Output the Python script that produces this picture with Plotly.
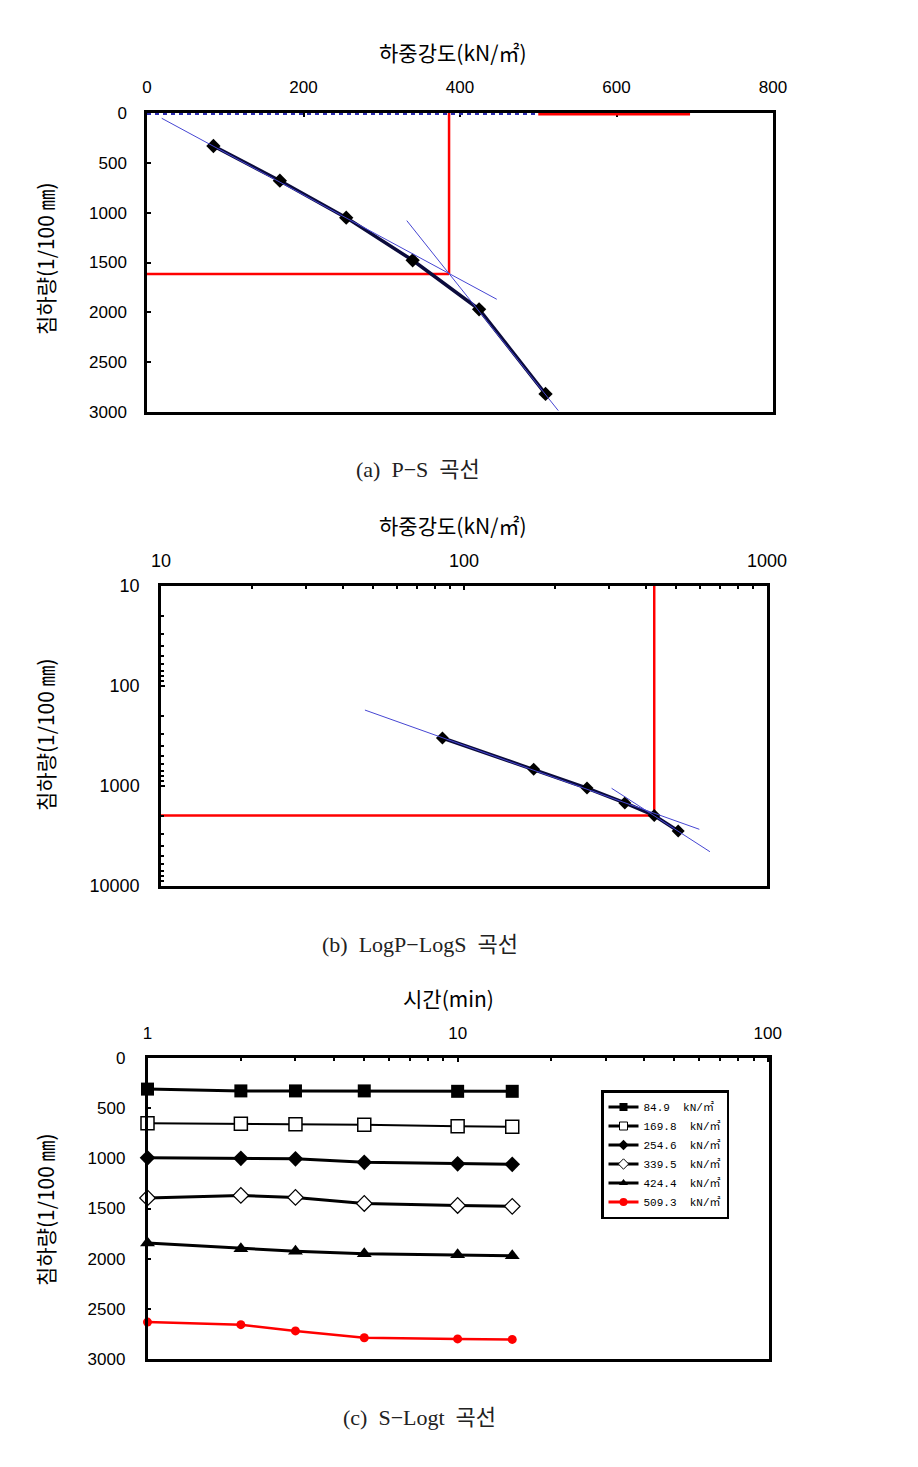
import plotly.graph_objects as go

W, H = 918, 1467

# ---------------- data ----------------
load = [84.9, 169.8, 254.6, 339.5, 424.4, 509.3]          # kN/m2
settle = [331, 679, 1050, 1478, 1970, 2819]                # 1/100 mm

tan_a1_x = [18.8, 447]
tan_a1_y = [53, 1869]
tan_a2_x = [332, 525.6]
tan_a2_y = [1080, 2986]
yield_a_x = 386
yield_a_y = 1615
top_red_x = [500, 694]
top_blue_x = [0, 500]

tan_b1_x = [47.1, 598]
tan_b1_y = [174, 2710]
tan_b2_x = [307, 648]
tan_b2_y = [1054, 4540]
yield_b_x = 424.4
yield_b_y = 1975

time_min = [1, 2, 3, 5, 10, 15]
s_849 = [310, 328, 328, 328, 332, 332]
s_1698 = [650, 655, 660, 665, 680, 685]
s_2546 = [995, 1000, 1005, 1040, 1055, 1060]
s_3395 = [1395, 1370, 1390, 1450, 1470, 1478]
s_4244 = [1845, 1900, 1925, 1952, 1962, 1972]
s_5093 = [2632, 2658, 2720, 2788, 2800, 2805]
series_names = ["84.9  kN/㎡", "169.8  kN/㎡", "254.6  kN/㎡",
                "339.5  kN/㎡", "424.4  kN/㎡", "509.3  kN/㎡"]

x_ticks_a = [0, 200, 400, 600, 800]
y_ticks_a = [0, 500, 1000, 1500, 2000, 2500, 3000]
log_ticks_b = [10, 100, 1000, 10000]
log_ticks_c = [1, 10, 100]
minor_b = [m * 10 ** k for k in (1, 2, 3) for m in range(2, 10)]
minor_c = [m * 10 ** k for k in (0, 1) for m in range(2, 10)]

# ---------------- helpers ----------------
def px(x):
    return x / W

def py(y):
    return 1 - y / H

TICKFONT = dict(family="Liberation Sans, Arial, sans-serif", size=17, color="black")
KFONT = dict(family="Noto Sans CJK KR, sans-serif", size=21, color="black")
CAPFONT = dict(family="Liberation Serif, Noto Sans CJK KR, serif", size=22, color="#222")

NAVY = "#0b0b3c"
BLUE = "#4646d2"
RED = "#ff0000"

fig = go.Figure()

# ---------------- panel (a) ----------------
fig.add_trace(go.Scatter(x=top_blue_x, y=[0, 0], mode="lines", xaxis="x", yaxis="y",
                         line=dict(color="#2a2ab0", width=4, dash="dot"),
                         showlegend=False, hoverinfo="skip"))
fig.add_trace(go.Scatter(x=top_red_x, y=[0, 0], mode="lines", xaxis="x", yaxis="y",
                         line=dict(color=RED, width=5),
                         showlegend=False, hoverinfo="skip"))
fig.add_trace(go.Scatter(x=[yield_a_x, yield_a_x], y=[0, yield_a_y], mode="lines",
                         xaxis="x", yaxis="y", line=dict(color=RED, width=2.5),
                         showlegend=False))
fig.add_trace(go.Scatter(x=[0, yield_a_x], y=[yield_a_y, yield_a_y], mode="lines",
                         xaxis="x", yaxis="y", line=dict(color=RED, width=2.5),
                         showlegend=False))
fig.add_trace(go.Scatter(x=load, y=settle, mode="lines+markers", xaxis="x", yaxis="y",
                         line=dict(color=NAVY, width=3.5),
                         marker=dict(symbol="diamond", size=11, color="black"),
                         showlegend=False))
fig.add_trace(go.Scatter(x=tan_a1_x, y=tan_a1_y, mode="lines", xaxis="x", yaxis="y",
                         line=dict(color=BLUE, width=1), showlegend=False))
fig.add_trace(go.Scatter(x=tan_a2_x, y=tan_a2_y, mode="lines", xaxis="x", yaxis="y",
                         line=dict(color=BLUE, width=1), showlegend=False))

# ---------------- panel (b) ----------------
fig.add_trace(go.Scatter(x=[yield_b_x, yield_b_x], y=[10, yield_b_y], mode="lines",
                         xaxis="x2", yaxis="y2", line=dict(color=RED, width=2.5),
                         showlegend=False))
fig.add_trace(go.Scatter(x=[10, yield_b_x], y=[yield_b_y, yield_b_y], mode="lines",
                         xaxis="x2", yaxis="y2", line=dict(color=RED, width=2.5),
                         showlegend=False))
fig.add_trace(go.Scatter(x=load, y=settle, mode="lines+markers", xaxis="x2", yaxis="y2",
                         line=dict(color=NAVY, width=3.5),
                         marker=dict(symbol="diamond", size=10, color="black"),
                         showlegend=False))
fig.add_trace(go.Scatter(x=tan_b1_x, y=tan_b1_y, mode="lines", xaxis="x2", yaxis="y2",
                         line=dict(color=BLUE, width=1), showlegend=False))
fig.add_trace(go.Scatter(x=tan_b2_x, y=tan_b2_y, mode="lines", xaxis="x2", yaxis="y2",
                         line=dict(color=BLUE, width=1), showlegend=False))

# ---------------- panel (c) ----------------
styles = [
    (s_849, dict(symbol="square", size=13, color="black"), dict(color="black", width=3)),
    (s_1698, dict(symbol="square", size=13, color="white", line=dict(color="black", width=1.5)),
     dict(color="black", width=2)),
    (s_2546, dict(symbol="diamond", size=12, color="black"), dict(color="black", width=3)),
    (s_3395, dict(symbol="diamond", size=12, color="white", line=dict(color="black", width=1.2)),
     dict(color="black", width=3)),
    (s_4244, dict(symbol="triangle-up", size=13, color="black"), dict(color="black", width=3)),
    (s_5093, dict(symbol="circle", size=9, color=RED), dict(color=RED, width=2.5)),
]
for (vals, mk, ln), name in zip(styles, series_names):
    fig.add_trace(go.Scatter(x=time_min, y=vals, mode="lines+markers", xaxis="x3", yaxis="y3",
                             line=ln, marker=mk, name=name, showlegend=False,
                             cliponaxis=False))
# legend entries (small markers as in the original legend)
for (vals, mk, ln), name in zip(styles, series_names):
    mk2 = dict(mk)
    mk2["size"] = 8
    if "line" in mk2:
        mk2["line"] = dict(color="black", width=1)
    fig.add_trace(go.Scatter(x=[None], y=[None], mode="lines+markers", xaxis="x3", yaxis="y3",
                             line=dict(color=ln["color"], width=3), marker=mk2, name=name,
                             showlegend=True))

axis_common = dict(showline=True, linecolor="black", linewidth=2.5, mirror=True,
                   showgrid=False, zeroline=False, ticks="inside", ticklen=4,
                   tickwidth=2, tickcolor="black", tickfont=TICKFONT, automargin=False)

fig.update_layout(
    template="none",
    width=W, height=H,
    margin=dict(l=0, r=0, t=0, b=0, pad=0),
    paper_bgcolor="white", plot_bgcolor="white",
    showlegend=True,
    xaxis=dict(axis_common, domain=[px(147), px(773)], anchor="y", side="top",
               range=[0, 800], tickvals=x_ticks_a, ticklabelstandoff=10, layer="below traces"),
    yaxis=dict(axis_common, domain=[py(412), py(113)], anchor="x",
               range=[3000, 0], tickvals=y_ticks_a, ticklabelstandoff=14),
    xaxis2=dict(axis_common, domain=[px(161), px(767)], anchor="y2", side="top", type="log",
                range=[1, 3], tickvals=log_ticks_b[:3], ticktext=["10", "100", "1000"],
                ticklabelstandoff=9, tickfont=dict(TICKFONT, size=18),
                minor=dict(tickvals=minor_b, ticks="inside", ticklen=3, tickwidth=2,
                           tickcolor="black", showgrid=False)),
    yaxis2=dict(axis_common, domain=[py(886), py(586)], anchor="x2", type="log",
                range=[4, 1], tickvals=log_ticks_b, ticktext=["10", "100", "1000", "10000"],
                ticklabelstandoff=15, tickfont=dict(TICKFONT, size=18),
                minor=dict(tickvals=minor_b, ticks="inside", ticklen=3, tickwidth=2,
                           tickcolor="black", showgrid=False)),
    xaxis3=dict(axis_common, domain=[px(147.5), px(769)], anchor="y3", side="top", type="log",
                range=[0, 2.004], tickvals=log_ticks_c, ticktext=["1", "10", "100"],
                ticklabelstandoff=9,
                minor=dict(tickvals=minor_c, ticks="inside", ticklen=3, tickwidth=2,
                           tickcolor="black", showgrid=False)),
    yaxis3=dict(axis_common, domain=[py(1359), py(1058)], anchor="x3",
                range=[3000, 0], tickvals=y_ticks_a, ticklabelstandoff=16),
    legend=dict(x=px(601), y=py(1090), xanchor="left", yanchor="top",
                bgcolor="white", bordercolor="black", borderwidth=2.5,
                font=dict(family="Liberation Mono, Noto Sans CJK KR, monospace", size=11,
                          color="black"),
                tracegroupgap=0, itemwidth=30),
)

ann = []
def add_text(text, x, y, font, angle=0):
    ann.append(dict(text=text, x=px(x), y=py(y), xref="paper", yref="paper",
                    showarrow=False, font=font, textangle=angle,
                    xanchor="center", yanchor="middle"))

add_text("하중강도(kN/㎡)", 452, 52, KFONT)
add_text("침하량(1/100 ㎜)", 45, 259, KFONT, -90)
add_text("(a)  P−S  곡선", 418, 470, CAPFONT)

add_text("하중강도(kN/㎡)", 452, 525, KFONT)
add_text("침하량(1/100 ㎜)", 45, 735, KFONT, -90)
add_text("(b)  LogP−LogS  곡선", 420, 944, CAPFONT)

add_text("시간(min)", 448, 998, KFONT)
add_text("침하량(1/100 ㎜)", 45, 1210, KFONT, -90)
add_text("(c)  S−Logt  곡선", 419, 1417, CAPFONT)

fig.update_layout(annotations=ann)

fig.write_html("out.html",
               config={"displayModeBar": False},
               post_script="document.body.style.margin='0';document.body.style.overflow='hidden';")
